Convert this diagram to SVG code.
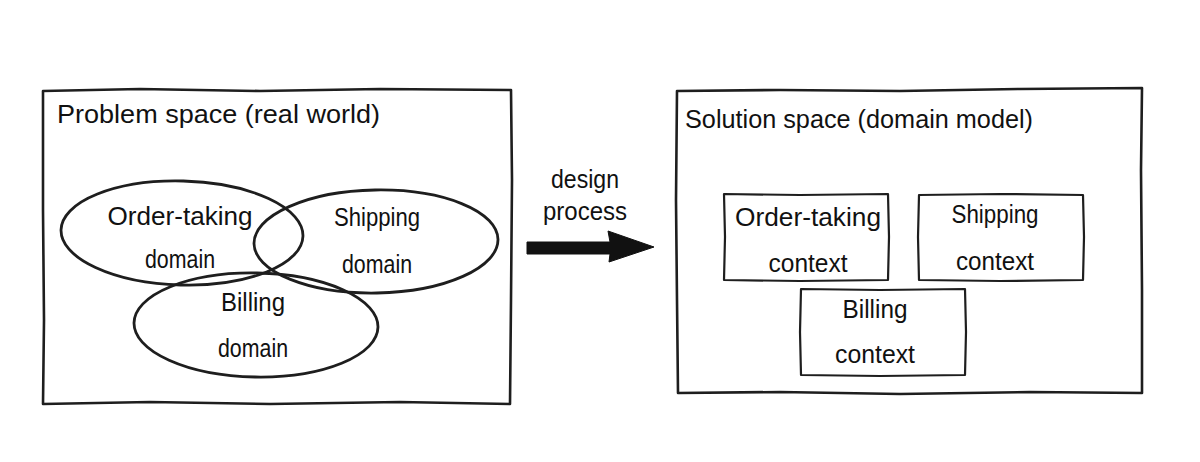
<svg xmlns="http://www.w3.org/2000/svg" width="1200" height="462" viewBox="0 0 1200 462">
<style>
.frame{fill:none;stroke:#1e1e1e;stroke-width:2.6;stroke-linejoin:round;stroke-linecap:round}
.box{fill:none;stroke:#1e1e1e;stroke-width:2.2;stroke-linejoin:round;stroke-linecap:round}
.ell{fill:none;stroke:#1e1e1e;stroke-width:2.8}
text{font-family:"Liberation Sans","DejaVu Sans",sans-serif;fill:#111;font-size:26px}
.t{text-anchor:middle}
</style>
<rect width="1200" height="462" fill="#fff"/>
<g id="problem-space">
<path class="frame" d="M43,91 L140,89 L260,91 L380,89 L511,90 L512,180 L511,300 L510,404 L400,402 L270,404 L150,402 L43,404 L44,320 L43,210 Z"/>
<text x="57" y="123" textLength="323" lengthAdjust="spacingAndGlyphs">Problem space (real world)</text>
</g>
<g id="order-taking-domain">
<ellipse class="ell" cx="182" cy="233" rx="121" ry="52" transform="rotate(1.5 182 233)"/>
<text class="t" x="180" y="225" textLength="145" lengthAdjust="spacingAndGlyphs">Order-taking</text>
<text class="t" x="180" y="268" textLength="70" lengthAdjust="spacingAndGlyphs">domain</text>
</g>
<g id="shipping-domain">
<ellipse class="ell" cx="376" cy="241.5" rx="122" ry="51.5" transform="rotate(-1 376 241.5)"/>
<text class="t" x="377" y="226" textLength="86" lengthAdjust="spacingAndGlyphs">Shipping</text>
<text class="t" x="377" y="273" textLength="70" lengthAdjust="spacingAndGlyphs">domain</text>
</g>
<g id="billing-domain">
<ellipse class="ell" cx="256" cy="325" rx="122" ry="52" transform="rotate(1 256 325)"/>
<text class="t" x="253" y="311" textLength="64" lengthAdjust="spacingAndGlyphs">Billing</text>
<text class="t" x="253" y="357" textLength="70" lengthAdjust="spacingAndGlyphs">domain</text>
</g>
<g id="connectors">
<path d="M527,242 L610,242 L608,231 L654,247 L609,262 L610,254 L527,254 Z" fill="#111" stroke="#111" stroke-width="1" stroke-linejoin="round"/>
<text class="t" x="585" y="188" textLength="68" lengthAdjust="spacingAndGlyphs">design</text>
<text class="t" x="585" y="220" textLength="84" lengthAdjust="spacingAndGlyphs">process</text>
</g>
<g id="solution-space">
<path class="frame" d="M677,91 L780,90 L900,91 L1020,89 L1142,88 L1141,170 L1142,290 L1142,393 L1030,392 L900,394 L780,392 L678,393 L677,300 L676,200 Z"/>
<text x="685" y="128" textLength="348" lengthAdjust="spacingAndGlyphs">Solution space (domain model)</text>
</g>
<g id="order-taking-context">
<path class="box" d="M724,194 L800,195 L888,194 L889,237 L888,280 L800,281 L724,280 L725,237 Z"/>
<text class="t" x="808" y="226" textLength="146" lengthAdjust="spacingAndGlyphs">Order-taking</text>
<text class="t" x="808" y="272" textLength="79" lengthAdjust="spacingAndGlyphs">context</text>
</g>
<g id="shipping-context">
<path class="box" d="M919,195 L1000,194 L1083,195 L1084,237 L1083,280 L1000,281 L919,280 L918,237 Z"/>
<text class="t" x="995" y="223" textLength="87" lengthAdjust="spacingAndGlyphs">Shipping</text>
<text class="t" x="995" y="270" textLength="78" lengthAdjust="spacingAndGlyphs">context</text>
</g>
<g id="billing-context">
<path class="box" d="M801,289 L880,290 L965,289 L966,332 L965,375 L880,376 L801,375 L800,332 Z"/>
<text class="t" x="875" y="318" textLength="65" lengthAdjust="spacingAndGlyphs">Billing</text>
<text class="t" x="875" y="363" textLength="80" lengthAdjust="spacingAndGlyphs">context</text>
</g>
</svg>
